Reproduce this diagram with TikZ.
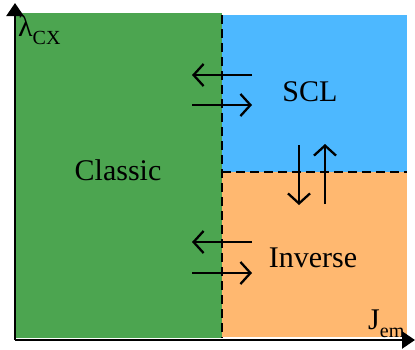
\documentclass[tikz,border=0pt]{standalone}
\usepackage{fontspec}
\setmainfont{Liberation Serif}
\usetikzlibrary{arrows.meta}
\definecolor{cgreen}{RGB}{76,165,80}
\definecolor{cblue}{RGB}{77,184,255}
\definecolor{corange}{RGB}{255,184,112}
\tikzset{
  flux/.style={line width=2.3pt, -{Straight Barb[length=10pt,width=22pt,line width=2.3pt]}},
  border/.style={line width=2pt, dash pattern=on 9pt off 5pt},
  axisline/.style={line width=2.5pt, -{Triangle[length=13pt,width=17pt]}},
  region/.style={font=\fontsize{30}{30}\selectfont},
  axlabel/.style={font=\fontsize{30}{30}\selectfont, inner sep=0pt}
}
\begin{document}
\begin{tikzpicture}[x=1pt,y=-1pt]
\useasboundingbox (0,0) rectangle (415,349);
% regions
\fill[cgreen] (16,13) rectangle (222,338);
\fill[cblue] (222,15) rectangle (407,172);
\fill[corange] (222,172) rectangle (407,337);
% boundaries
\coordinate (vtop) at (222,15);
\coordinate (vbot) at (222,338);
\coordinate (hl) at (222,172);
\coordinate (hr) at (407,172);
\draw[border] (vtop) -- (vbot);
\draw[border] (hl) -- (hr);
% axes
\coordinate (o) at (15,340);
\coordinate (ytip) at (15,3);
\coordinate (xtip) at (415,340);
\draw[axisline] (o) -- (ytip);
\draw[axisline] (o) -- (xtip);
\node[axlabel, anchor=west] (ylab) at (18,30) {λ\raisebox{-0.25em}{\fontsize{20}{20}\selectfont CX}};
\node[axlabel, anchor=west] (xlab) at (368,324) {J\raisebox{-0.25em}{\fontsize{20}{20}\selectfont em}};
% region labels
\node[region] (classic) at (118,170) {Classic};
\node[region] (scl) at (310,92) {SCL};
\node[region] (inv) at (313,258) {Inverse};
% flux arrows
\coordinate (a1s) at (252,75); \coordinate (a1e) at (192,75);
\coordinate (a2s) at (192,105); \coordinate (a2e) at (252,105);
\coordinate (a3s) at (252,242); \coordinate (a3e) at (192,242);
\coordinate (a4s) at (192,273); \coordinate (a4e) at (252,273);
\coordinate (a5s) at (299,145); \coordinate (a5e) at (299,205);
\coordinate (a6s) at (325,204); \coordinate (a6e) at (325,144);
\draw[flux] (a1s) -- (a1e);
\draw[flux] (a2s) -- (a2e);
\draw[flux] (a3s) -- (a3e);
\draw[flux] (a4s) -- (a4e);
\draw[flux] (a5s) -- (a5e);
\draw[flux] (a6s) -- (a6e);
\end{tikzpicture}
\end{document}
